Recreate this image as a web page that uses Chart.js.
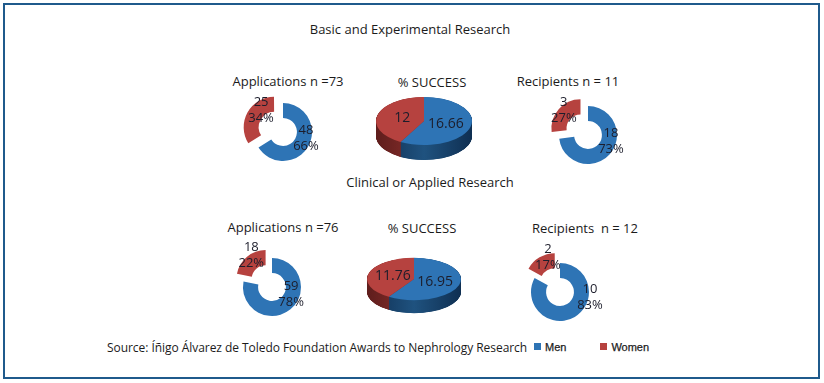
<!DOCTYPE html>
<html>
<head>
<meta charset="utf-8">
<script src="https://cdn.jsdelivr.net/npm/chart.js@4/dist/chart.umd.min.js"></script>
<style>
  body { margin: 0; width: 824px; height: 383px; background: #fff; position: relative; overflow: hidden;
         font-family: "Open Sans", sans-serif; color: #1b1b1b; }
  .frame { position: absolute; left: 3px; top: 3px; width: 813px; height: 372px; border: 2px solid #1f5a8c; }
  .t { position: absolute; width: 240px; text-align: center; white-space: pre; line-height: 16px; }
  canvas { position: absolute; }
  .key { position: absolute; font: 11px "Liberation Sans", Arial, sans-serif; color: #222; line-height: 14px;
         -webkit-text-stroke: 0.25px #222; }
  .key i { display: inline-block; width: 7px; height: 7px; margin-right: 4px; vertical-align: 1px; }
</style>
</head>
<body>
<div class="frame"></div>

<div class="t" style="left:290px; top:21px; font-size:13px">Basic and Experimental Research</div>
<div class="t" style="left:168px; top:73px; font-size:13px">Applications n =73</div>
<div class="t" style="left:312px; top:74px; font-size:13px">% SUCCESS</div>
<div class="t" style="left:448px; top:73px; font-size:13px">Recipients n = 11</div>

<div class="t" style="left:310px; top:174px; font-size:13px">Clinical or Applied Research</div>
<div class="t" style="left:163px; top:219px; font-size:13px">Applications n =76</div>
<div class="t" style="left:302px; top:220px; font-size:13px">% SUCCESS</div>
<div class="t" style="left:465px; top:220px; font-size:13px">Recipients  n = 12</div>

<div class="t" style="left:107px; top:340px; width:430px; text-align:left; font-size:12px; letter-spacing:-0.05px">Source: Íñigo Álvarez de Toledo Foundation Awards to Nephrology Research</div>
<div class="key" id="legend" style="left:534px; top:340px"></div>

<canvas id="basicApps" width="120" height="110" style="left:223px; top:77px"></canvas>
<canvas id="basicSucc" width="130" height="100" style="left:359px; top:71px"></canvas>
<canvas id="basicRecip" width="120" height="110" style="left:528px; top:80px"></canvas>
<canvas id="clinApps" width="120" height="110" style="left:212px; top:232px"></canvas>
<canvas id="clinSucc" width="130" height="100" style="left:349px; top:229px"></canvas>
<canvas id="clinRecip" width="120" height="110" style="left:500px; top:237px"></canvas>

<script>
const seriesNames = ['Men', 'Women'];
const seriesColors = ['#2e74b5', '#b6423f'];

// Basic and Experimental Research
const basicApplications = [48, 25];
const basicApplicationsPct = [66, 34];
const basicSuccess = [16.66, 12];
const basicRecipients = [18, 3];
const basicRecipientsPct = [73, 27];

// Clinical or Applied Research
const clinicalApplications = [59, 18];
const clinicalApplicationsPct = [78, 22];
const clinicalSuccess = [16.95, 11.76];
const clinicalRecipients = [10, 2];
const clinicalRecipientsPct = [83, 17];

// draws value labels on each slice
const sliceLabels = {
  id: 'sliceLabels',
  afterDatasetsDraw(chart, args, opts) {
    const ctx = chart.ctx;
    const arcs = chart.getDatasetMeta(0).data;
    const squash = opts.squash || 1;
    ctx.save();
    ctx.font = opts.font;
    ctx.fillStyle = '#1c1d2b';
    ctx.textAlign = 'center';
    ctx.textBaseline = 'middle';
    arcs.forEach((arc, i) => {
      const p = arc.getProps(['x', 'y', 'startAngle', 'endAngle', 'outerRadius']);
      let angle = (p.startAngle + p.endAngle) / 2;
      let r = p.outerRadius * opts.factor;
      if (opts.labelAt) {
        angle = opts.labelAt[i][0] * Math.PI / 180 - Math.PI / 2;
        r = p.outerRadius * opts.labelAt[i][1];
      }
      const x = p.x + Math.cos(angle) * r;
      const y = p.y + Math.sin(angle) * r * squash;
      const lines = opts.texts[i];
      for (let k = 0; k < lines.length; k++) {
        ctx.fillText(lines[k], x, y + (k - (lines.length - 1) / 2) * opts.lineHeight);
      }
    });
    ctx.restore();
  }
};

// flattens a pie into an ellipse and gives it a side wall
const pieDepth = {
  id: 'pieDepth',
  beforeDatasetsDraw(chart, args, opts) {
    const ctx = chart.ctx;
    const arcs = chart.getDatasetMeta(0).data;
    const {x, y} = arcs[0].getProps(['x', 'y']);
    ctx.save();
    ctx.translate(x, y);
    ctx.scale(1, opts.squash);
    ctx.translate(-x, -y);
    const sides = opts.sideColors.map(c => {
      const r = arcs[0].getProps(['outerRadius']).outerRadius;
      const g = ctx.createLinearGradient(x - r, 0, x + r, 0);
      g.addColorStop(0, c[0]);
      g.addColorStop(0.5, c[1]);
      g.addColorStop(1, c[0]);
      return g;
    });
    for (let d = opts.depth / opts.squash; d > 0; d -= 0.5) {
      arcs.forEach((arc, i) => {
        const p = arc.getProps(['startAngle', 'endAngle', 'outerRadius']);
        ctx.beginPath();
        ctx.moveTo(x, y + d);
        ctx.arc(x, y + d, p.outerRadius, p.startAngle, p.endAngle);
        ctx.closePath();
        ctx.fillStyle = sides[i];
        ctx.fill();
      });
    }
  },
  afterDatasetsDraw(chart) {
    chart.ctx.restore();
  }
};

function ringChart(id, pct, counts, labelAt) {
  return new Chart(document.getElementById(id), {
    type: 'doughnut',
    data: {
      labels: seriesNames,
      datasets: [{
        data: pct,
        backgroundColor: seriesColors,
        borderWidth: 0,
        offset: [0, 40],   // arc offset is divided by 4 when drawn
        clip: false
      }]
    },
    options: {
      responsive: false,
      animation: false,
      events: [],
      radius: 29,
      cutout: '48%',
      plugins: {
        legend: { display: false },
        tooltip: { enabled: false },
        sliceLabels: {
          font: '13px "Open Sans"',
          lineHeight: 16,
          factor: 0.8,
          labelAt: labelAt,
          texts: pct.map((v, i) => [String(counts[i]), v + '%'])
        }
      }
    },
    plugins: [sliceLabels]
  });
}

function flatPie(id, values, rx, squash, depth) {
  return new Chart(document.getElementById(id), {
    type: 'pie',
    data: {
      labels: seriesNames,
      datasets: [{
        data: values,
        backgroundColor: seriesColors,
        borderWidth: 0,
        clip: false
      }]
    },
    options: {
      responsive: false,
      animation: false,
      events: [],
      radius: rx,
      plugins: {
        legend: { display: false },
        tooltip: { enabled: false },
        pieDepth: {
          squash: squash,
          depth: depth,
          sideColors: [['#0f2f52', '#1f527f'], ['#5e1d1c', '#8c302d']]
        },
        sliceLabels: {
          font: '14px "Open Sans"',
          lineHeight: 16,
          factor: 0.47,
          squash: squash,
          texts: values.map(v => [String(v)])
        }
      }
    },
    plugins: [pieDepth, sliceLabels]
  });
}

ringChart('basicApps', basicApplicationsPct, basicApplications, [[105, 0.82], [315, 1.07]]);
flatPie('basicSucc', basicSuccess, 48, 0.5, 15);
ringChart('basicRecip', basicRecipientsPct, basicRecipients, [[105, 0.82], [316, 1.2]]);

ringChart('clinApps', clinicalApplicationsPct, clinicalApplications, [[110, 0.7], [327, 1.31]]);
flatPie('clinSucc', clinicalSuccess, 47, 0.45, 13);
ringChart('clinRecip', clinicalRecipientsPct, clinicalRecipients, [[100, 1.05], [341, 1.28]]);

// shared legend
document.getElementById('legend').innerHTML = seriesNames.map((n, i) =>
  '<span style="margin-right:' + (i ? 0 : 34) + 'px"><i style="background:' + seriesColors[i] + '"></i>' + n + '</span>'
).join('');
</script>
</body>
</html>
